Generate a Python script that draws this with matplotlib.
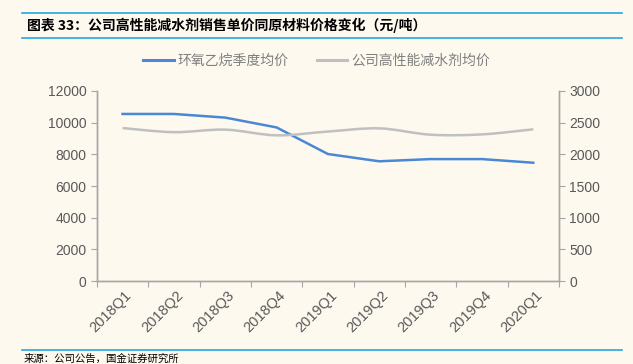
import matplotlib
matplotlib.use("Agg")
import matplotlib.pyplot as plt
import matplotlib.transforms as mtransforms
from matplotlib.path import Path
from matplotlib.patches import PathPatch
from matplotlib.lines import Line2D

plt.rcParams['font.family'] = ['Liberation Sans', 'Noto Sans CJK SC', 'DejaVu Sans']

quarters = ['2018Q1', '2018Q2', '2018Q3', '2018Q4', '2019Q1',
            '2019Q2', '2019Q3', '2019Q4', '2020Q1']
eo_price = [10550, 10550, 10320, 9700, 8020, 7560, 7700, 7700, 7470]
pce_price = [2415, 2350, 2390, 2300, 2360, 2410, 2310, 2315, 2395]

BG = '#FDF9EF'
BLUE = '#4A88D6'
GRAY = '#C0C0C0'
AXC = '#A6A6A6'
TXT = '#595959'
RULE = '#25A6E3'


# excel style smoothed line: catmull-rom turned into bezier segments
def smooth_path(xs, ys):
    verts = [(xs[0], ys[0])]
    codes = [Path.MOVETO]
    n = len(xs)
    for i in range(n - 1):
        x0, y0 = (xs[i - 1], ys[i - 1]) if i > 0 else (xs[i], ys[i])
        x3, y3 = (xs[i + 2], ys[i + 2]) if i + 2 < n else (xs[i + 1], ys[i + 1])
        x1, y1 = xs[i], ys[i]
        x2, y2 = xs[i + 1], ys[i + 1]
        t = 1 / 6
        verts += [(x1 + (x2 - x0) * t, y1 + (y2 - y0) * t),
                  (x2 - (x3 - x1) * t, y2 - (y3 - y1) * t),
                  (x2, y2)]
        codes += [Path.CURVE4] * 3
    return Path(verts, codes)


fig = plt.figure(figsize=(6.33, 3.64), dpi=100, facecolor=BG)
ax = fig.add_axes([0.153, 0.228, 0.730, 0.522])
ax.set_facecolor(BG)
ax2 = ax.twinx()

x = list(range(len(quarters)))
ax.plot(x, eo_price, color=BLUE, lw=1.8, solid_joinstyle='round', zorder=3)
ax2.add_patch(PathPatch(smooth_path(x, pce_price), fill=False, edgecolor=GRAY, lw=1.8,
                        capstyle='butt', zorder=2))

ax.set_xlim(-0.5, len(quarters) - 0.5)
ax.set_ylim(0, 12000)
ax.set_yticks(range(0, 12001, 2000))
ax2.set_ylim(0, 3000)
ax2.set_yticks(range(0, 3001, 500))

ax.set_xticks([i + 0.5 for i in range(-1, len(quarters))])
ax.set_xticklabels([])
ax.set_xticks(x, minor=True)
ax.set_xticklabels(quarters, minor=True, rotation=45, ha='right', va='center',
                   rotation_mode='anchor', color=TXT, fontsize=10.5)
ax.tick_params(axis='x', which='minor', length=0, pad=9)
ax.tick_params(axis='x', which='major', length=4, color=AXC)
shift = mtransforms.ScaledTranslation(7 / 100, 0, fig.dpi_scale_trans)
for lbl in ax.get_xticklabels(minor=True):
    lbl.set_transform(lbl.get_transform() + shift)

for a in (ax, ax2):
    a.spines['top'].set_visible(False)
    for s in ('left', 'right', 'bottom'):
        a.spines[s].set_color(AXC)
        a.spines[s].set_linewidth(1.0)
    a.tick_params(axis='y', colors=TXT, labelsize=10, length=4)
    a.tick_params(axis='y', color=AXC)

# legend
handles = [Line2D([], [], color=BLUE, lw=2.2), Line2D([], [], color=GRAY, lw=2.2)]
leg = fig.legend(handles, ['环氧乙烷季度均价', '公司高性能减水剂均价'],
                 loc='center', bbox_to_anchor=(0.5, 1 - 61 / 364), ncol=2, frameon=False,
                 handlelength=2.2, columnspacing=2.0, handletextpad=0.3,
                 prop={'family': ['Noto Sans CJK SC'], 'size': 10})
for t in leg.get_texts():
    t.set_color('#7F7F7F')

# title block
fig.add_artist(Line2D([0.035, 0.983], [1 - 13 / 364] * 2, color=RULE, lw=1.2))
fig.add_artist(Line2D([0.035, 0.983], [1 - 38 / 364] * 2, color=RULE, lw=1.2))
fig.text(0.042, 1 - 25 / 364, '图表 33：公司高性能减水剂销售单价同原材料价格变化（元/吨）',
         fontsize=10, fontweight='bold', color='black', va='center', ha='left',
         family=['Noto Sans CJK SC'])

# source
fig.add_artist(Line2D([0.035, 0.983], [1 - 350 / 364] * 2, color=RULE, lw=1.2))
fig.text(0.038, 1 - 359 / 364, '来源：公司公告，国金证券研究所', fontsize=7.5,
         color='black', va='center', ha='left', family=['Noto Sans CJK SC'])

fig.savefig('out.png', dpi=100, facecolor=BG)
